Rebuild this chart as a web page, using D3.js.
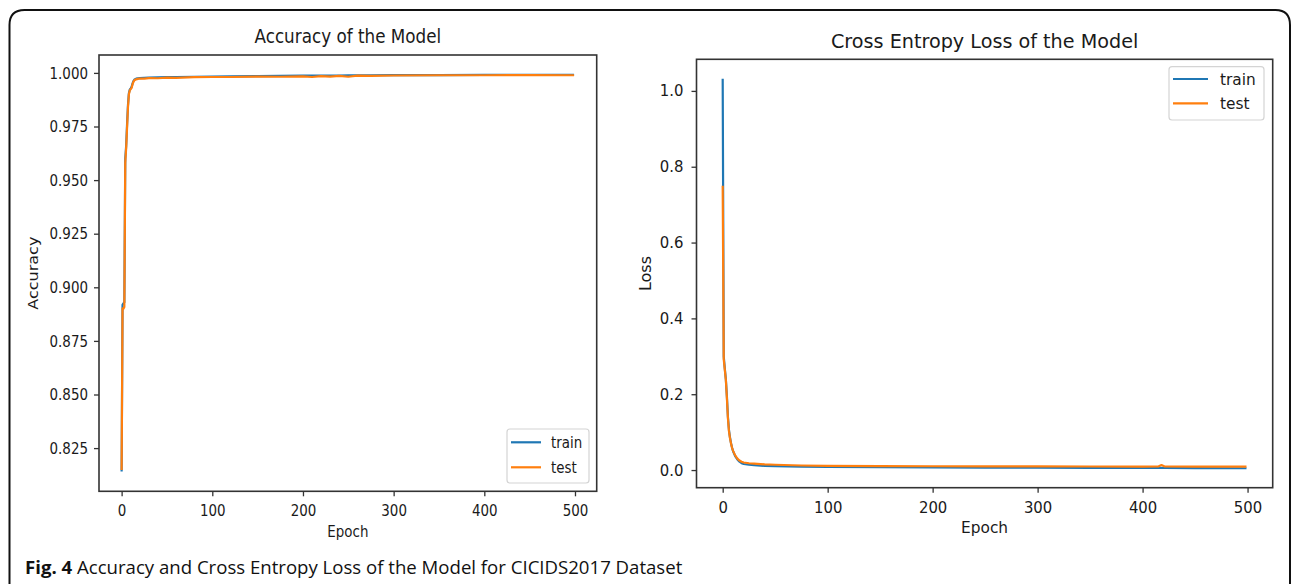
<!DOCTYPE html>
<html>
<head>
<meta charset="utf-8">
<script src="https://cdn.jsdelivr.net/npm/d3@7"></script>
<style>
    body { margin: 0; background: #fff; }
    svg { display: block; }
</style>
</head>
<body>
<svg id="fig" width="1292" height="584"></svg>
<script>
// ---- data ----
const epochTicks = [0, 100, 200, 300, 400, 500];
const accTicks = [0.825, 0.850, 0.875, 0.900, 0.925, 0.950, 0.975, 1.000];
const lossTicks = [0.0, 0.2, 0.4, 0.6, 0.8, 1.0];
const seriesNames = ['train', 'test'];

const accEpochs = [0, 1, 2, 3, 4, 5, 6, 7, 8, 9, 10, 11, 12, 13, 14, 15, 16, 18, 20, 25, 30, 40, 50, 60, 80, 100,
    120, 150, 175, 200, 210, 220, 230, 240, 250, 260, 275, 300, 350, 400, 450, 499];
const accTrain = [0.8141, 0.8918, 0.8925, 0.8930, 0.9600, 0.9660, 0.9760, 0.9850, 0.9905, 0.9922, 0.9928, 0.9935,
    0.9950, 0.9962, 0.9968, 0.9971, 0.9973, 0.9975, 0.9976, 0.9977, 0.9978, 0.9979, 0.9980, 0.9981, 0.9982, 0.9983,
    0.9984, 0.9985, 0.9986, 0.9987, 0.9987, 0.9988, 0.9988, 0.9988, 0.9989, 0.9989, 0.9989, 0.9990, 0.9990, 0.9991,
    0.9991, 0.9991];
const accTest = [0.8148, 0.8902, 0.8900, 0.8908, 0.9580, 0.9650, 0.9745, 0.9840, 0.9900, 0.9918, 0.9924, 0.9930,
    0.9946, 0.9958, 0.9965, 0.9968, 0.9970, 0.9972, 0.9974, 0.9973, 0.9976, 0.9975, 0.9978, 0.9977, 0.9980, 0.9981,
    0.9981, 0.9983, 0.9982, 0.9984, 0.9981, 0.9985, 0.9983, 0.9986, 0.9982, 0.9987, 0.9986, 0.9988, 0.9989, 0.9989,
    0.9990, 0.9989];

const lossEpochs = [0, 1, 2, 3, 4, 5, 6, 7, 8, 9, 10, 12, 14, 16, 18, 20, 25, 30, 40, 50, 75, 100, 150, 200, 250,
    300, 350, 400, 415, 418, 421, 450, 499];
const lossTrain = [1.032, 0.300, 0.268, 0.240, 0.195, 0.140, 0.105, 0.085, 0.070, 0.058, 0.049, 0.036, 0.028, 0.022,
    0.018, 0.016, 0.014, 0.013, 0.011, 0.0105, 0.009, 0.0085, 0.0075, 0.007, 0.0065, 0.0062, 0.0058, 0.0055, 0.0055,
    0.0055, 0.0054, 0.0050, 0.0048];
const lossTest = [0.750, 0.292, 0.265, 0.238, 0.190, 0.136, 0.102, 0.083, 0.069, 0.058, 0.050, 0.038, 0.030, 0.025,
    0.022, 0.020, 0.018, 0.017, 0.015, 0.014, 0.012, 0.011, 0.0105, 0.0100, 0.0098, 0.0096, 0.0094, 0.0092, 0.0093,
    0.0130, 0.0093, 0.0090, 0.0088];

const COLORS = { train: '#1f77b4', test: '#ff7f0e' };
const FONT = '"DejaVu Sans", sans-serif';

const svg = d3.select('#fig');

// outer frame of the figure box (open at the bottom)
svg.append('path')
    .attr('d', 'M9.5,584 V25 Q9.5,10 24.5,10 H1275.5 Q1290,10 1290,25 V584')
    .attr('fill', 'none')
    .attr('stroke', '#111')
    .attr('stroke-width', 2);

// matplotlib style 5% margin around data
function padExtent(ext) {
    const r = ext[1] - ext[0];
    return [ext[0] - r * 0.05, ext[1] + r * 0.05];
}

// the original figure is squeezed horizontally, so every text is squeezed too
function squishText(sel, sx) {
    sel.each(function () {
        const t = d3.select(this);
        const x = +t.attr('x') || 0;
        const y = +t.attr('y') || 0;
        t.attr('x', 0).attr('y', 0)
            .attr('transform', `translate(${x},${y}) scale(${sx},1)`);
    });
}

function addText(g, x, y, str, size, sx, anchor, rotate) {
    return g.append('text')
        .attr('transform', `translate(${x},${y}) scale(${sx},1)` + (rotate ? ` rotate(${rotate})` : ''))
        .attr('text-anchor', anchor || 'middle')
        .style('font-family', FONT)
        .style('font-size', size + 'px')
        .style('fill', '#1a1a1a')
        .text(str);
}

function drawChart(cfg) {
    const g = svg.append('g');

    const x = d3.scaleLinear()
        .domain(padExtent(d3.extent(cfg.epochs)))
        .range([cfg.left, cfg.right]);
    const y = d3.scaleLinear()
        .domain(padExtent(d3.extent(cfg.train.concat(cfg.test))))
        .range([cfg.bottom, cfg.top]);

    // lines
    const line = d3.line()
        .x((d, i) => x(cfg.epochs[i]))
        .y(d => y(d));

    g.append('path').datum(cfg.train)
        .attr('d', line)
        .attr('fill', 'none')
        .attr('stroke', COLORS.train)
        .attr('stroke-width', 2.2)
        .attr('stroke-linejoin', 'round');
    g.append('path').datum(cfg.test)
        .attr('d', line)
        .attr('fill', 'none')
        .attr('stroke', COLORS.test)
        .attr('stroke-width', 2.2)
        .attr('stroke-linejoin', 'round');

    // axes
    const xAxis = g.append('g')
        .attr('transform', `translate(0,${cfg.bottom})`)
        .call(d3.axisBottom(x).tickValues(epochTicks).tickSize(5).tickPadding(cfg.xPad).tickFormat(d3.format('d')));
    const yAxis = g.append('g')
        .attr('transform', `translate(${cfg.left},0)`)
        .call(d3.axisLeft(y).tickValues(cfg.yTicks).tickSize(5).tickPadding(cfg.yPad).tickFormat(d3.format(cfg.yFormat)));

    [xAxis, yAxis].forEach(ax => {
        ax.select('.domain').remove();
        ax.selectAll('line').attr('stroke', '#333').attr('stroke-width', 1.3);
        ax.selectAll('text')
            .style('font-family', FONT)
            .style('font-size', cfg.tickSize + 'px')
            .style('fill', '#1a1a1a');
        squishText(ax.selectAll('text'), cfg.sx);
    });

    // spines
    g.append('rect')
        .attr('x', cfg.left)
        .attr('y', cfg.top)
        .attr('width', cfg.right - cfg.left)
        .attr('height', cfg.bottom - cfg.top)
        .attr('fill', 'none')
        .attr('stroke', '#333')
        .attr('stroke-width', 1.6);

    const cx = (cfg.left + cfg.right) / 2;
    addText(g, cx, cfg.titleY, cfg.title, cfg.titleSize, cfg.sx);
    addText(g, cx, cfg.xLabelY, 'Epoch', 16, cfg.sx);
    addText(g, cfg.yLabelX, (cfg.top + cfg.bottom) / 2, cfg.yLabel, 16, cfg.sx, 'middle', -90);

    // legend
    const lg = cfg.legend;
    g.append('rect')
        .attr('x', lg.x)
        .attr('y', lg.y)
        .attr('width', lg.w)
        .attr('height', lg.h)
        .attr('rx', 3)
        .attr('fill', '#fff')
        .attr('fill-opacity', 0.8)
        .attr('stroke', '#d4d4d4')
        .attr('stroke-width', 1.2);
    seriesNames.forEach((name, i) => {
        const ly = lg.y + lg.firstRow + i * lg.rowGap;
        g.append('line')
            .attr('x1', lg.x + 4)
            .attr('x2', lg.x + 4 + lg.lineLen)
            .attr('y1', ly)
            .attr('y2', ly)
            .attr('stroke', COLORS[name])
            .attr('stroke-width', 2.2);
        addText(g, lg.x + lg.textDx, ly + 5.5, name, 16, cfg.sx, 'start');
    });
}

drawChart({
    epochs: accEpochs, train: accTrain, test: accTest,
    left: 99, right: 596.7, top: 55, bottom: 491.3,
    sx: 0.84, tickSize: 16, xPad: 8, yPad: 6,
    yTicks: accTicks, yFormat: '.3f',
    title: 'Accuracy of the Model', titleSize: 20, titleY: 43.3,
    xLabelY: 537, yLabel: 'Accuracy', yLabelX: 37.6,
    legend: { x: 507, y: 429, w: 82, h: 54, firstRow: 13.3, rowGap: 25, lineLen: 30, textDx: 44 }
});

drawChart({
    epochs: lossEpochs, train: lossTrain, test: lossTest,
    left: 696.5, right: 1272.7, top: 59.3, bottom: 487.7,
    sx: 0.96, tickSize: 15.5, xPad: 9, yPad: 8,
    yTicks: lossTicks, yFormat: '.1f',
    title: 'Cross Entropy Loss of the Model', titleSize: 20, titleY: 47.7,
    xLabelY: 533.4, yLabel: 'Loss', yLabelX: 650.5,
    legend: { x: 1169, y: 66.7, w: 95, h: 53.3, firstRow: 12.3, rowGap: 24.3, lineLen: 35, textDx: 51 }
});

// caption
const cap = svg.append('text')
    .attr('x', 25)
    .attr('y', 574)
    .style('font-family', '"Open Sans", sans-serif')
    .style('font-size', '18.6px')
    .style('fill', '#111');
cap.append('tspan').style('font-weight', 'bold').text('Fig. 4');
cap.append('tspan').text(' Accuracy and Cross Entropy Loss of the Model for CICIDS2017 Dataset');
</script>
</body>
</html>
